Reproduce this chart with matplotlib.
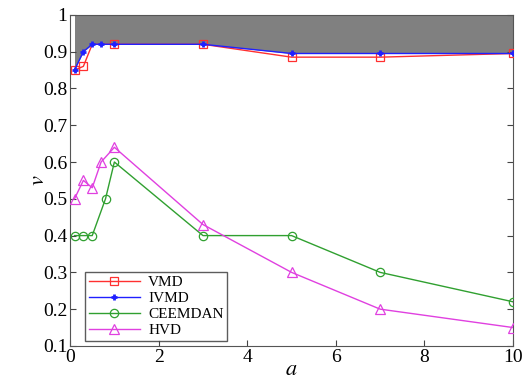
import numpy as np
import matplotlib
matplotlib.use("Agg")
import matplotlib.pyplot as plt

plt.rcParams['font.family'] = ['Liberation Serif', 'DejaVu Serif']
plt.rcParams['mathtext.fontset'] = 'stix'

# data
x_vmd = [0.1, 0.3, 0.5, 0.7, 1, 3, 5, 7, 10]
y_vmd = [0.85, 0.86, 0.92, 0.92, 0.92, 0.92, 0.885, 0.885, 0.895]
x_ivmd = [0.1, 0.3, 0.5, 0.7, 1, 3, 5, 7, 10]
y_ivmd = [0.85, 0.90, 0.92, 0.92, 0.92, 0.92, 0.895, 0.895, 0.895]
x_ceem = [0.1, 0.3, 0.5, 0.8, 1, 3, 5, 7, 10]
y_ceem = [0.40, 0.40, 0.40, 0.50, 0.60, 0.40, 0.40, 0.30, 0.22]
x_hvd = [0.1, 0.3, 0.5, 0.7, 1, 3, 5, 7, 10]
y_hvd = [0.50, 0.55, 0.53, 0.60, 0.64, 0.43, 0.30, 0.20, 0.15]

fig = plt.figure(figsize=(5.23, 3.81), dpi=100)
ax = fig.add_axes([0.134, 0.092, 0.847, 0.869])

# shaded region above IVMD curve
ax.fill_between(x_ivmd, y_ivmd, 1.0, color='#808080', lw=0, zorder=1)

ax.plot(x_vmd, y_vmd, color='#ff3030', marker='s', ms=5.5, mfc='none', mew=0.9,
        lw=1.0, markevery=[0, 1, 4, 5, 6, 7, 8], label='VMD', zorder=3)
ax.plot(x_ivmd, y_ivmd, color='#2020ff', marker='+', ms=5, mew=2,
        lw=1.0, label='IVMD', zorder=4)
ax.plot(x_ceem, y_ceem, color='#30a030', marker='o', ms=6, mfc='none', mew=0.9,
        lw=1.0, label='CEEMDAN', zorder=3)
ax.plot(x_hvd, y_hvd, color='#e040e0', marker='^', ms=7, mfc='none', mew=0.9,
        lw=1.0, label='HVD', zorder=3)

ax.set_xlim(0, 10)
ax.set_ylim(0.1, 1.0)
ax.set_xticks([0, 2, 4, 6, 8, 10])
ax.set_yticks(np.arange(0.1, 1.01, 0.1))
ax.set_yticklabels(['0.1', '0.2', '0.3', '0.4', '0.5', '0.6', '0.7', '0.8', '0.9', '1'])
ax.tick_params(direction='in', labelsize=14, length=4, color='#444444',
               top=False, right=True, pad=2)
for s in ax.spines.values():
    s.set_color('#555555')

ax.set_xlabel('$a$', fontsize=16, va='center')
ax.xaxis.set_label_coords(0.5, -0.075)
ax.set_ylabel('$v$', fontsize=16, rotation=90, va='center')
ax.yaxis.set_label_coords(-0.068, 0.5)

leg = ax.legend(loc='lower left', bbox_to_anchor=(0.033, 0.015), fontsize=11,
                frameon=True, fancybox=False, edgecolor='#333333',
                handlelength=3.4, borderpad=0.25, labelspacing=0.15, handletextpad=0.5,
                borderaxespad=0)
leg.get_frame().set_linewidth(1.0)

fig.savefig('out.png', dpi=100)
